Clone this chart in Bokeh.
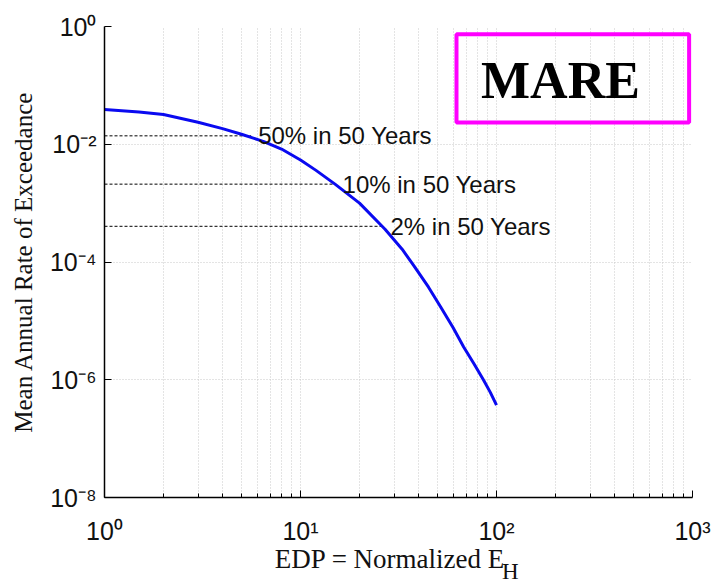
from bokeh.plotting import figure
from bokeh.models import FixedTicker, Label, BoxAnnotation, Range1d
from bokeh.layouts import column
from bokeh.embed import file_html
from bokeh.resources import INLINE

# ---- data ----
edp = [1, 1.5, 2, 3, 4, 5, 6.5, 8, 10, 12, 15, 20, 27, 33, 38, 45, 52, 60,
       68, 77, 86, 93, 100]
mare = [0.039, 0.0352, 0.032, 0.0237, 0.01845, 0.0148, 0.0111, 0.0083,
        0.0054, 0.0036, 0.0021, 0.00100, 0.00036, 1.65e-4, 8.5e-5, 3.73e-5,
        1.7e-5, 7.7e-6, 3.6e-6, 1.83e-6, 9.8e-7, 6.1e-7, 3.7e-7]

hazard_names = ["50% in 50 Years", "10% in 50 Years", "2% in 50 Years"]
hazard_rates = [0.0139, 0.0021, 0.000404]
hazard_edp = [5.6, 15.1, 26.5]

x_tick_exps = [0, 1, 2, 3]
y_tick_exps = [0, -2, -4, -6, -8]

x_title = "EDP = Normalized E"
x_title_sub = "H"
y_title = "Mean Annual Rate of Exceedance"

SANS = "Liberation Sans"
SERIF = "Liberation Serif"
SUP = str.maketrans("-0123456789", "⁻⁰¹²³⁴⁵⁶⁷⁸⁹")


def pow10(e):
    return "10" + str(e).translate(SUP)


p = figure(width=713, height=547, x_axis_type="log", y_axis_type="log",
           x_range=Range1d(1, 1000), y_range=Range1d(1e-8, 1),
           output_backend="svg", toolbar_location=None,
           min_border_left=104, min_border_right=21,
           min_border_top=26, min_border_bottom=50)
p.outline_line_color = None
p.background_fill_color = "white"
p.border_fill_color = "white"

xt = [10.0 ** e for e in x_tick_exps]
xminor = [m * 10.0 ** e for e in x_tick_exps[:-1] for m in range(2, 10)]
yt = [10.0 ** e for e in y_tick_exps]
p.xaxis.ticker = FixedTicker(ticks=xt, minor_ticks=xminor)
p.yaxis.ticker = FixedTicker(ticks=yt, minor_ticks=[])
p.xaxis.major_label_overrides = {v: pow10(e) for v, e in zip(xt, x_tick_exps)}
p.yaxis.major_label_overrides = {v: pow10(e) for v, e in zip(yt, y_tick_exps)}

for ax in (p.xaxis, p.yaxis):
    ax.axis_line_color = "black"
    ax.axis_line_width = 1.5
    ax.major_tick_in = 7
    ax.major_tick_out = 0
    ax.minor_tick_in = 4
    ax.minor_tick_out = 0
    ax.major_tick_line_color = "black"
    ax.minor_tick_line_color = "black"
    ax.major_label_text_font = SANS
    ax.major_label_text_font_size = "25px"
    ax.major_label_text_color = "#111111"
p.yaxis.major_label_standoff = 8
p.xaxis.major_label_standoff = 19

p.yaxis.axis_label = y_title
p.yaxis.axis_label_text_font = SERIF
p.yaxis.axis_label_text_font_size = "25px"
p.yaxis.axis_label_text_font_style = "normal"
p.yaxis.axis_label_text_color = "#111111"
p.yaxis.axis_label_standoff = 10

for g in (p.xgrid, p.ygrid):
    g.grid_line_color = "#c8c8c8"
    g.grid_line_dash = "1 2"
    g.grid_line_width = 1
p.xgrid.minor_grid_line_color = "#c8c8c8"
p.xgrid.minor_grid_line_dash = "1 2"
p.ygrid.minor_grid_line_color = None

# hazard level guides
for rate, xc in zip(hazard_rates, hazard_edp):
    p.line([1, xc], [rate, rate], line_color="black", line_width=1,
           line_dash="3 2")

# hazard curve
p.line(edp, mare, line_color="#0a0af0", line_width=3)

for name, rate, xc in zip(hazard_names, hazard_rates, hazard_edp):
    p.add_layout(Label(x=xc, y=rate, x_offset=7, text=name,
                       text_font=SANS, text_font_size="24px",
                       text_color="#111111", text_baseline="middle",
                       text_align="left"))

# MARE box
p.add_layout(BoxAnnotation(left=62.5, right=961, bottom=0.0234, top=0.74,
                           fill_alpha=0, line_color="#ff00ff",
                           line_alpha=1.0, line_width=4))
p.add_layout(Label(x=212, y=0.121, text="MARE", text_font=SERIF,
                   text_font_style="bold", text_font_size="52px",
                   text_align="center", text_baseline="middle",
                   text_color="black"))

# strip below the plot carrying the x-axis title with its subscript
t = figure(width=713, height=37, x_range=Range1d(0, 713),
           y_range=Range1d(0, 37), output_backend="svg",
           toolbar_location=None, min_border=0,
           x_axis_location=None, y_axis_location=None)
t.grid.visible = False
t.outline_line_color = None
t.background_fill_color = "white"
t.border_fill_color = "white"
t.add_layout(Label(x=486, y=26, text=x_title, text_font=SERIF,
                   text_font_size="27px", text_align="right",
                   text_baseline="alphabetic", text_color="#111111"))
t.add_layout(Label(x=482, y=13, text=x_title_sub, text_font=SERIF,
                   text_font_size="23px", text_align="left",
                   text_baseline="alphabetic", text_color="#111111"))

open("out.html", "w").write(file_html(column(p, t, spacing=0), INLINE))
